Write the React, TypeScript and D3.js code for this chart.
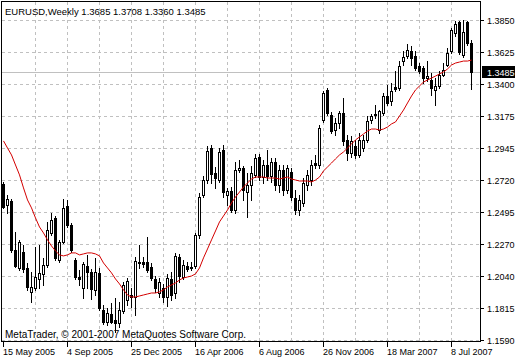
import React from 'react';
import * as d3 from 'd3';

// weekly EURUSD bars, 15 May 2005 .. 12 Aug 2007
const open = [
	1.2692, 1.2544, 1.2572, 1.2226, 1.2099, 1.2212, 1.2099, 1.1930, 1.1958, 1.2021,
	1.2057, 1.2120, 1.2346, 1.2452, 1.2155, 1.2283, 1.2537, 1.2403, 1.2155, 1.2035,
	1.1958, 1.2113, 1.2071, 1.1944, 1.2064, 1.1802, 1.1718, 1.1774, 1.1732, 1.1711,
	1.1795, 1.1873, 1.1908, 1.1894, 1.2141, 1.2141, 1.2141, 1.2106, 1.2021, 1.1922,
	1.1958, 1.1894, 1.2021, 1.1922, 1.2177, 1.2035, 1.2113, 1.2099, 1.2113, 1.2332,
	1.2614, 1.2720, 1.2946, 1.2770, 1.2720, 1.2932, 1.2614, 1.2643, 1.2508, 1.2791,
	1.2805, 1.2635, 1.2685, 1.2756, 1.2883, 1.2741, 1.2826, 1.2748, 1.2847, 1.2685,
	1.2791, 1.2650, 1.2777, 1.2593, 1.2508, 1.2558, 1.2685, 1.2720, 1.2840, 1.2826,
	1.3144, 1.3356, 1.3179, 1.3073, 1.3123, 1.3193, 1.3003, 1.2911, 1.2960, 1.2897,
	1.2946, 1.3003, 1.3144, 1.3186, 1.3073, 1.3193, 1.3313, 1.3278, 1.3377, 1.3370,
	1.3560, 1.3596, 1.3631, 1.3596, 1.3525, 1.3511, 1.3440, 1.3426, 1.3356, 1.3384,
	1.3462, 1.3532, 1.3631, 1.3758, 1.3836, 1.3603, 1.3836, 1.3685,
];
const high = [
	1.2706, 1.2614, 1.2586, 1.2353, 1.2297, 1.2261, 1.2134, 1.2071, 1.2247, 1.2261,
	1.2170, 1.2424, 1.2487, 1.2466, 1.2297, 1.2586, 1.2579, 1.2417, 1.2170, 1.2085,
	1.2141, 1.2191, 1.2092, 1.2170, 1.2099, 1.1838, 1.1817, 1.1852, 1.1887, 1.1859,
	1.2000, 1.2028, 1.1958, 1.2177, 1.2261, 1.2177, 1.2318, 1.2134, 1.2042, 1.2028,
	1.1986, 1.2057, 1.2071, 1.2205, 1.2198, 1.2155, 1.2141, 1.2141, 1.2346, 1.2628,
	1.2748, 1.2960, 1.2967, 1.2812, 1.2946, 1.2967, 1.2664, 1.2671, 1.2847, 1.2861,
	1.2819, 1.2770, 1.2819, 1.2904, 1.2904, 1.2861, 1.2932, 1.2876, 1.2876, 1.2826,
	1.2826, 1.2826, 1.2805, 1.2650, 1.2614, 1.2734, 1.2791, 1.2861, 1.2897, 1.3109,
	1.3349, 1.3370, 1.3200, 1.3158, 1.3207, 1.3299, 1.3038, 1.3031, 1.3003, 1.3052,
	1.3038, 1.3172, 1.3186, 1.3250, 1.3214, 1.3334, 1.3391, 1.3405, 1.3490, 1.3560,
	1.3631, 1.3680, 1.3666, 1.3631, 1.3546, 1.3525, 1.3560, 1.3476, 1.3440, 1.3490,
	1.3546, 1.3652, 1.3793, 1.3843, 1.3843, 1.3852, 1.3846, 1.3708,
];
const low = [
	1.2523, 1.2487, 1.2212, 1.2106, 1.2085, 1.2071, 1.1944, 1.1859, 1.1944, 1.1958,
	1.1979, 1.2106, 1.2332, 1.2155, 1.2141, 1.2275, 1.2388, 1.2212, 1.2021, 1.1979,
	1.1887, 1.1958, 1.1880, 1.1908, 1.1802, 1.1704, 1.1697, 1.1711, 1.1647, 1.1682,
	1.1781, 1.1838, 1.1824, 1.1767, 1.2099, 1.2106, 1.2071, 1.2014, 1.1930, 1.1894,
	1.1859, 1.1831, 1.1873, 1.1887, 1.2000, 1.2021, 1.2078, 1.2085, 1.2099, 1.2311,
	1.2600, 1.2699, 1.2699, 1.2664, 1.2706, 1.2600, 1.2544, 1.2494, 1.2487, 1.2777,
	1.2579, 1.2459, 1.2579, 1.2741, 1.2720, 1.2699, 1.2720, 1.2706, 1.2650, 1.2635,
	1.2614, 1.2628, 1.2579, 1.2480, 1.2473, 1.2537, 1.2650, 1.2685, 1.2805, 1.2805,
	1.3130, 1.3179, 1.3052, 1.3038, 1.3087, 1.2967, 1.2861, 1.2883, 1.2876, 1.2883,
	1.2925, 1.2989, 1.3123, 1.3158, 1.3052, 1.3179, 1.3250, 1.3250, 1.3349, 1.3356,
	1.3532, 1.3582, 1.3532, 1.3497, 1.3476, 1.3405, 1.3419, 1.3320, 1.3250, 1.3370,
	1.3454, 1.3525, 1.3617, 1.3737, 1.3610, 1.3589, 1.3673, 1.3360,
];
const close = [
	1.2530, 1.2586, 1.2226, 1.2113, 1.2283, 1.2092, 1.1965, 1.1965, 1.2035, 1.2064,
	1.2120, 1.2367, 1.2438, 1.2170, 1.2283, 1.2523, 1.2403, 1.2226, 1.2035, 1.2021,
	1.2127, 1.2071, 1.1951, 1.2071, 1.1817, 1.1718, 1.1781, 1.1718, 1.1711, 1.1802,
	1.1979, 1.2007, 1.1894, 1.2148, 1.2134, 1.2127, 1.2085, 1.2028, 1.1958, 1.2000,
	1.1894, 1.2028, 1.1908, 1.2184, 1.2042, 1.2120, 1.2092, 1.2106, 1.2332, 1.2600,
	1.2720, 1.2925, 1.2763, 1.2734, 1.2918, 1.2635, 1.2643, 1.2508, 1.2791, 1.2805,
	1.2650, 1.2685, 1.2770, 1.2876, 1.2741, 1.2826, 1.2748, 1.2847, 1.2685, 1.2791,
	1.2650, 1.2805, 1.2600, 1.2508, 1.2579, 1.2699, 1.2756, 1.2826, 1.2826, 1.3087,
	1.3334, 1.3193, 1.3066, 1.3123, 1.3193, 1.2996, 1.2911, 1.2996, 1.2897, 1.3003,
	1.3003, 1.3137, 1.3172, 1.3179, 1.3207, 1.3313, 1.3264, 1.3349, 1.3363, 1.3525,
	1.3589, 1.3638, 1.3582, 1.3511, 1.3490, 1.3440, 1.3454, 1.3370, 1.3384, 1.3462,
	1.3497, 1.3617, 1.3779, 1.3822, 1.3624, 1.3765, 1.3685, 1.3485,
];
// moving average line (red)
const movingAvg = [
	1.2996, 1.2946, 1.2897, 1.2826, 1.2756, 1.2664, 1.2579, 1.2523, 1.2452, 1.2388,
	1.2346, 1.2297, 1.2254, 1.2219, 1.2191, 1.2184, 1.2191, 1.2205, 1.2205, 1.2191,
	1.2198, 1.2205, 1.2205, 1.2198, 1.2184, 1.2134, 1.2099, 1.2064, 1.2021, 1.1986,
	1.1944, 1.1908, 1.1894, 1.1894, 1.1901, 1.1908, 1.1915, 1.1922, 1.1922, 1.1930,
	1.1944, 1.1965, 1.1979, 1.1993, 1.2014, 1.2028, 1.2035, 1.2042, 1.2057, 1.2099,
	1.2170, 1.2233, 1.2297, 1.2360, 1.2424, 1.2466, 1.2508, 1.2558, 1.2600, 1.2635,
	1.2671, 1.2699, 1.2727, 1.2741, 1.2741, 1.2741, 1.2734, 1.2734, 1.2734, 1.2727,
	1.2734, 1.2741, 1.2727, 1.2720, 1.2713, 1.2713, 1.2713, 1.2706, 1.2720, 1.2741,
	1.2784, 1.2812, 1.2840, 1.2869, 1.2897, 1.2918, 1.2946, 1.2974, 1.3003, 1.3024,
	1.3045, 1.3066, 1.3080, 1.3080, 1.3073, 1.3080, 1.3094, 1.3116, 1.3130, 1.3172,
	1.3214, 1.3264, 1.3313, 1.3356, 1.3384, 1.3412, 1.3426, 1.3440, 1.3454, 1.3469,
	1.3483, 1.3504, 1.3532, 1.3546, 1.3553, 1.3560, 1.3560, 1.3567,
];

const priceTicks = [1.3850, 1.3625, 1.3400, 1.3175, 1.2945, 1.2720, 1.2495, 1.2270, 1.2040, 1.1815, 1.1590];
const dateLabels = ['15 May 2005', '4 Sep 2005', '25 Dec 2005', '16 Apr 2006', '6 Aug 2006', '26 Nov 2006', '18 Mar 2007', '8 Jul 2007'];
const dateLabelBars = [0, 16, 32, 48, 64, 80, 96, 112];
const gridBars = [8, 16, 24, 32, 40, 48, 56, 64, 72, 80, 88, 96, 104, 112];
const lastPrice = 1.3485;
const title = 'EURUSD,Weekly  1.3685 1.3708 1.3360 1.3485';
const copyright = 'MetaTrader, © 2001-2007 MetaQuotes Software Corp.';

const WIDTH = 520;
const HEIGHT = 360;
const plot = { left: 1.5, top: 1.5, right: 480.5, bottom: 341.5 };
const FONT = '"Liberation Sans", Arial, sans-serif';
const GRID = '#c0c0c0';

export default function App() {
	const x = d3.scaleLinear().domain([0, open.length - 1]).range([3, 3 + 4 * (open.length - 1)]);
	const y = d3.scaleLinear().domain([1.1590, 1.3850]).range([340, 20]);
	const py = (v: number) => Math.round(y(v));

	const maLine = d3.line<number>()
		.x((_, i) => x(i) + 0.5)
		.y(d => y(d));

	const lastY = py(lastPrice);

	return (
		<>
			<style>{'body{margin:0}'}</style>
			<svg width={WIDTH} height={HEIGHT} style={{ display: 'block', background: '#fff' }} fontFamily={FONT}>
				{/* grid */}
				<g shapeRendering="crispEdges" stroke={GRID} strokeDasharray="3,3">
					{priceTicks.map(t => (
						<line key={t} x1={plot.left} x2={plot.right} y1={py(t) + 0.5} y2={py(t) + 0.5} />
					))}
					{gridBars.map(b => (
						<line key={b} x1={x(b) + 0.5} x2={x(b) + 0.5} y1={plot.top} y2={plot.bottom} />
					))}
				</g>
				{/* last price line */}
				<line x1={plot.left} x2={plot.right} y1={lastY + 0.5} y2={lastY + 0.5} stroke={GRID} shapeRendering="crispEdges" />

				{/* candles */}
				<g shapeRendering="crispEdges">
					{open.map((o, i) => {
						const c = close[i];
						const cx = Math.round(x(i));
						const hy = py(high[i]);
						const ly = py(low[i]);
						const top = py(Math.max(o, c));
						const bot = py(Math.min(o, c));
						const bull = c > o;
						return (
							<g key={i}>
								<rect x={cx} y={hy} width={1} height={ly - hy + 1} fill="#000" />
								{bull ? (
									<rect x={cx - 0.5} y={top + 0.5} width={2} height={Math.max(bot - top, 1)} fill="#fff" stroke="#000" />
								) : (
									<rect x={cx - 1} y={top} width={3} height={Math.max(bot - top + 1, 1)} fill="#000" />
								)}
							</g>
						);
					})}
				</g>

				{/* moving average */}
				<path d={maLine(movingAvg) ?? ''} fill="none" stroke="#d40000" strokeWidth={1} />

				{/* frame */}
				<rect x={plot.left} y={plot.top} width={plot.right - plot.left} height={plot.bottom - plot.top} fill="none" stroke="#000" shapeRendering="crispEdges" />

				{/* price axis */}
				<g fontSize={9} fill="#000">
					{priceTicks.map(t => (
						<g key={t}>
							<line x1={481} x2={484} y1={py(t) + 0.5} y2={py(t) + 0.5} stroke="#000" shapeRendering="crispEdges" />
							<text x={487} y={py(t) + 3.5}>{t.toFixed(4)}</text>
						</g>
					))}
					<rect x={482} y={lastY - 6} width={33} height={12} fill="#000" />
					<text x={487} y={lastY + 3.5} fill="#fff">{lastPrice.toFixed(4)}</text>
				</g>

				{/* date axis */}
				<g fontSize={9} fill="#000">
					{dateLabels.map((label, k) => {
						const tx = Math.round(x(dateLabelBars[k]));
						return (
							<g key={label}>
								<line x1={tx + 0.5} x2={tx + 0.5} y1={342} y2={347} stroke="#000" shapeRendering="crispEdges" />
								<text x={tx} y={355}>{label}</text>
							</g>
						);
					})}
				</g>

				<text x={5} y={15} fontSize={9.5} fill="#000">{title}</text>
				<text x={5} y={337.5} fontSize={10} fill="#000">{copyright}</text>
			</svg>
		</>
	);
}
